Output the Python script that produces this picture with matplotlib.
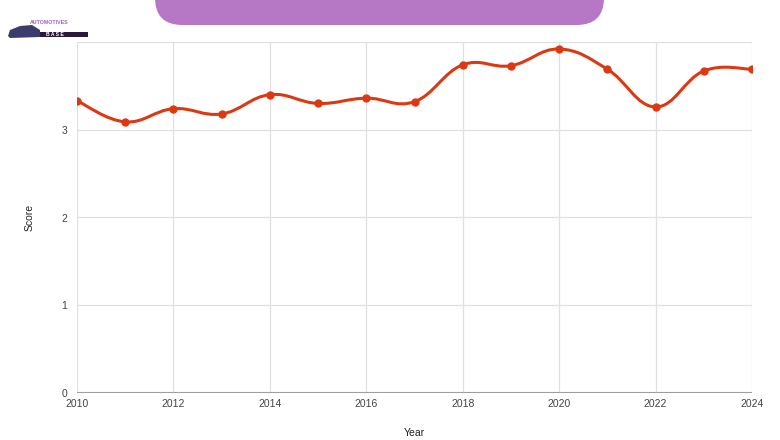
import numpy as np
import matplotlib.pyplot as plt
from matplotlib.path import Path
from matplotlib.patches import PathPatch, FancyBboxPatch, Polygon, Rectangle

years = [2010, 2011, 2012, 2013, 2014, 2015, 2016, 2017,
         2018, 2019, 2020, 2021, 2022, 2023, 2024]
scores = [3.33, 3.09, 3.24, 3.18, 3.40, 3.30, 3.36, 3.32,
          3.74, 3.73, 3.92, 3.69, 3.26, 3.67, 3.69]
x_ticks = [2010, 2012, 2014, 2016, 2018, 2020, 2022, 2024]
y_ticks = [0, 1, 2, 3]

plt.rcParams['font.family'] = ['Liberation Sans', 'DejaVu Sans']

red = '#dc3912'
fig = plt.figure(figsize=(7.8, 4.4), dpi=100)
ax = fig.add_axes([77 / 780, 1 - 393 / 440, 675 / 780, 351 / 440])

# smooth curve through the points (cubic bezier segments)
pts = np.column_stack([years, scores]).astype(float)
t = 0.2
verts = [tuple(pts[0])]
codes = [Path.MOVETO]
for i in range(len(pts) - 1):
    p0 = pts[i - 1] if i > 0 else pts[i]
    p1, p2 = pts[i], pts[i + 1]
    p3 = pts[i + 2] if i + 2 < len(pts) else pts[i + 1]
    c1 = p1 + (p2 - p0) * t
    c2 = p2 - (p3 - p1) * t
    verts += [tuple(c1), tuple(c2), tuple(p2)]
    codes += [Path.CURVE4] * 3
ax.add_patch(PathPatch(Path(verts, codes), fill=False, edgecolor=red,
                       lw=2.2, zorder=3, capstyle='round', joinstyle='round'))
ax.plot(years, scores, 'o', color=red, ms=5, zorder=4)

ax.set_xlim(2010, 2024)
ax.set_ylim(0, 4)
ax.set_xticks(x_ticks)
ax.set_yticks(y_ticks)
for v in x_ticks:
    ax.axvline(v, color='#e0e0e0', lw=0.9, zorder=1)
for v in [1, 2, 3, 4]:
    ax.axhline(v, color='#e0e0e0', lw=0.9, zorder=1)
for s in ax.spines.values():
    s.set_visible(False)
ax.axhline(0, color='#9e9e9e', lw=1.5, zorder=2)
ax.tick_params(length=0, labelsize=7.5, labelcolor='#444444')
ax.tick_params(axis='y', pad=7)
ax.tick_params(axis='x', pad=4)
ax.set_xlabel('Year', fontsize=7.5, color='#222222', labelpad=14)
ax.set_ylabel('Score', fontsize=7.5, color='#222222', labelpad=19)

# purple banner at top
fig.patches.append(FancyBboxPatch((155 / 780, 1 - 25 / 440), 449 / 780, 60 / 440,
                                  boxstyle='round,pad=0,rounding_size=0.035',
                                  transform=fig.transFigure, facecolor='#b678c4',
                                  edgecolor='none', mutation_aspect=780 / 440))

# logo
fig.patches.append(Polygon([(8 / 780, 1 - 36 / 440), (10 / 780, 1 - 30 / 440),
                            (20 / 780, 1 - 26 / 440), (32 / 780, 1 - 25 / 440),
                            (40 / 780, 1 - 30 / 440), (40 / 780, 1 - 37 / 440),
                            (10 / 780, 1 - 38 / 440)],
                           closed=True, transform=fig.transFigure,
                           facecolor='#3a3c6e', edgecolor='none'))
fig.patches.append(Rectangle((40 / 780, 1 - 37 / 440), 48 / 780, 5 / 440,
                             transform=fig.transFigure, facecolor='#2a1a3a',
                             edgecolor='none'))
fig.text(49 / 780, 1 - 23 / 440, 'AUTOMOTIVES', fontsize=3.8, color='#a15fc4',
         fontweight='bold', ha='center', va='center')
fig.text(55 / 780, 1 - 34.5 / 440, 'B A S E', fontsize=3.6, color='white',
         fontweight='bold', ha='center', va='center')

fig.savefig('out.png', dpi=100)
